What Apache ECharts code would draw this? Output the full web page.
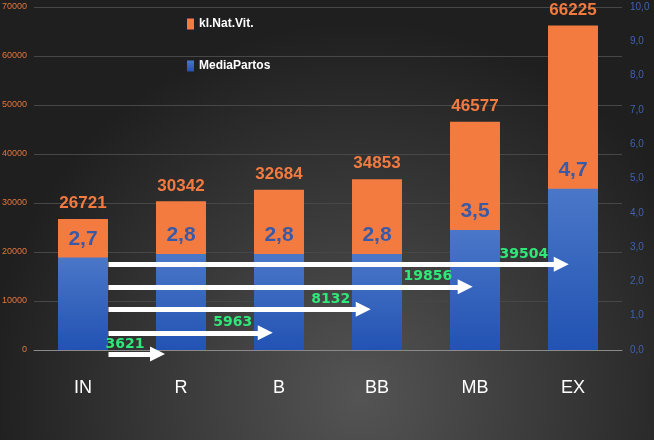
<!DOCTYPE html>
<html>
<head>
<meta charset="utf-8">
<script src="https://cdn.jsdelivr.net/npm/echarts@6/dist/echarts.min.js"></script>
<style>html,body{margin:0;padding:0;background:#2a2a2a;}#main{width:654px;height:440px;}</style>
</head>
<body>
<div id="main"></div>
<script>
// categories and values
const categories = ['IN', 'R', 'B', 'BB', 'MB', 'EX'];
const natVit = [26721, 30342, 32684, 34853, 46577, 66225];
const mediaPartos = [2.7, 2.8, 2.8, 2.8, 3.5, 4.7];

// arrows: label, height on left axis, start / end of shaft in category index units
const arrowValues = [3621, 5963, 8132, 19856, 39504];
const arrowLevels = [-800, 3500, 8300, 12900, 17500];
const arrowStart = 0.26;
const arrowEnds = [0.76, 1.86, 2.86, 3.9, 4.88];

const font = '"Liberation Sans", Arial, sans-serif';
const comma = v => Number(v).toFixed(1).replace('.', ',');

const chart = echarts.init(document.getElementById('main'));

const arrowData = arrowValues.map((v, i) => ({
  value: v,
  coords: [[arrowStart, arrowLevels[i]], [arrowEnds[i], arrowLevels[i]]]
}));

const option = {
  animation: false,
  backgroundColor: {
    type: 'radial', x: 0.55, y: 0.9, r: 0.85,
    colorStops: [{ offset: 0, color: '#545454' }, { offset: 1, color: '#1f1f1f' }]
  },
  legend: {
    orient: 'vertical',
    left: 182,
    top: 13,
    itemWidth: 7,
    itemHeight: 11,
    itemGap: 30,
    icon: 'rect',
    textStyle: { color: '#fff', fontFamily: font, fontWeight: 'bold', fontSize: 12 },
    data: ['kl.Nat.Vit.', 'MediaPartos']
  },
  grid: { left: 34, right: 32, top: 7, bottom: 90, containLabel: false, outerBoundsMode: 'none' },
  xAxis: [{
    type: 'category',
    data: categories,
    axisTick: { show: false },
    axisLine: { lineStyle: { color: '#8a8a8a', width: 1 } },
    axisLabel: { color: '#fff', fontFamily: font, fontSize: 18, margin: 29 }
  }, {
    type: 'value',
    min: -0.5,
    max: 5.5,
    show: false
  }],
  yAxis: [{
    type: 'value',
    min: 0,
    max: 70000,
    interval: 10000,
    axisLine: { show: false },
    axisTick: { show: false },
    axisLabel: { color: '#e4763c', fontFamily: font, fontSize: 9, margin: 7, formatter: v => String(v) },
    splitLine: { lineStyle: { color: '#474747', width: 1 } }
  }, {
    type: 'value',
    min: 0,
    max: 10,
    interval: 1,
    axisLine: { show: false },
    axisTick: { show: false },
    axisLabel: { color: '#3d62b0', fontFamily: font, fontSize: 10, margin: 8, formatter: comma },
    splitLine: { show: false }
  }],
  series: [{
    name: 'kl.Nat.Vit.',
    type: 'bar',
    data: natVit,
    barWidth: '51%',
    barGap: '-100%',
    itemStyle: { color: '#f47b40' },
    label: {
      show: true, position: 'top', distance: 7,
      color: '#f47b40', fontFamily: font, fontWeight: 'bold', fontSize: 17
    }
  }, {
    name: 'MediaPartos',
    type: 'bar',
    yAxisIndex: 1,
    data: mediaPartos,
    barWidth: '51%',
    barGap: '-100%',
    itemStyle: {
      color: {
        type: 'linear', x: 0, y: 0, x2: 0, y2: 1,
        colorStops: [{ offset: 0, color: '#4a77c8' }, { offset: 1, color: '#2252b3' }]
      }
    },
    label: {
      show: true, position: 'top', distance: 8,
      color: '#3b5aa6', fontFamily: font, fontWeight: 'bold', fontSize: 21,
      formatter: p => comma(p.value)
    }
  }, {
    type: 'lines',
    coordinateSystem: 'cartesian2d',
    xAxisIndex: 1,
    yAxisIndex: 0,
    clip: false,
    z: 5,
    symbol: ['none', 'triangle'],
    symbolSize: [15, 15],
    lineStyle: { color: '#fff', width: 5, opacity: 1, curveness: 0 },
    label: {
      show: true,
      position: 'insideEndTop',
      distance: [13, 3],
      color: '#2ee87a',
      fontFamily: '"DejaVu Sans", sans-serif',
      fontWeight: 'bold',
      fontSize: 14,
      formatter: p => p.value
    },
    data: arrowData
  }]
};

chart.setOption(option);
</script>
</body>
</html>
